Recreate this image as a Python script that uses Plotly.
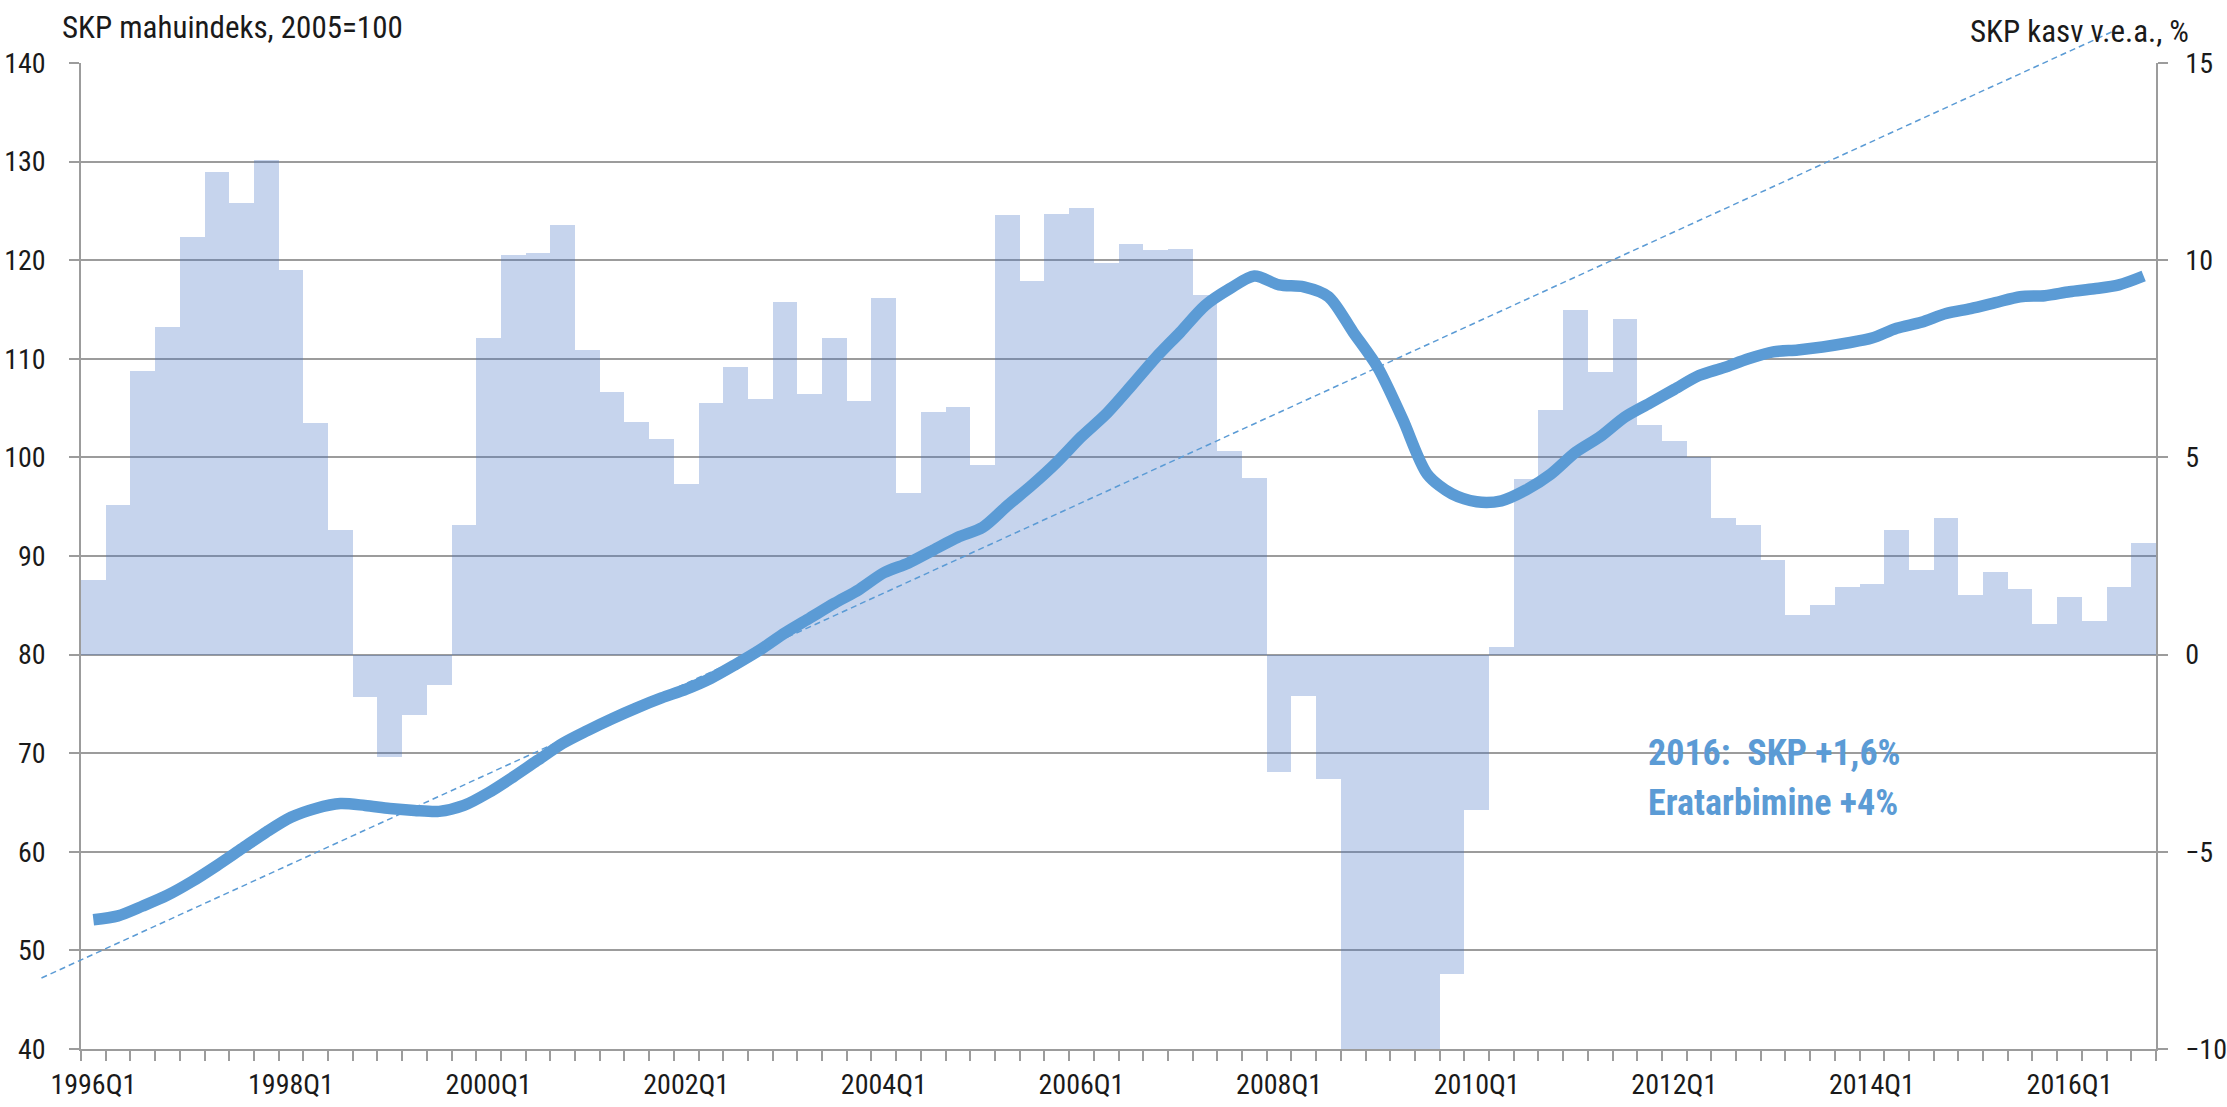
import plotly.graph_objects as go

# ---------------- data ----------------
years = list(range(1996, 2017))
quarters = [f"{y}Q{q}" for y in years for q in range(1, 5)]

tick_labels = ["1996Q1", "1998Q1", "2000Q1", "2002Q1", "2004Q1",
               "2006Q1", "2008Q1", "2010Q1", "2012Q1", "2014Q1", "2016Q1"]

# SKP kasv v.e.a., % (right axis, bars)
gdp_growth = [
    1.89, 3.80, 7.18, 8.31, 10.58, 12.24, 11.45, 12.53,
    9.75, 5.86, 3.17, -1.07, -2.59, -1.52, -0.76, 3.29,
    8.02, 10.14, 10.18, 10.90, 7.72, 6.66, 5.89, 5.46,
    4.33, 6.38, 7.28, 6.47, 8.93, 6.62, 8.02, 6.44,
    9.03, 4.11, 6.16, 6.28, 4.80, 11.14, 9.47, 11.17,
    11.32, 9.93, 10.41, 10.25, 10.28, 9.12, 5.17, 4.47,
    -2.97, -1.04, -3.15, -10.9, -15.6, -16.4, -14.6, -8.11,
    -3.95, 0.19, 4.44, 6.19, 8.73, 7.17, 8.52, 5.82,
    5.41, 5.00, 3.47, 3.28, 2.39, 1.00, 1.26, 1.71,
    1.79, 3.15, 2.14, 3.47, 1.50, 2.10, 1.66, 0.78,
    1.47, 0.86, 1.72, 2.82,
]

# SKP mahuindeks, 2005=100 (left axis, line)
gdp_index = [
    53.1, 53.5, 54.5, 55.6, 57.0, 58.6, 60.3, 62.0,
    63.5, 64.4, 64.9, 64.7, 64.4, 64.2, 64.1, 64.7,
    66.0, 67.6, 69.3, 71.0, 72.3, 73.5, 74.6, 75.6,
    76.5, 77.6, 79.0, 80.5, 82.2, 83.7, 85.2, 86.6,
    88.3, 89.3, 90.6, 91.9, 92.9, 95.1, 97.2, 99.5,
    102.1, 104.4, 107.2, 110.1, 112.7, 115.4, 117.1, 118.4,
    117.5, 117.3, 116.3, 112.7, 109.1, 103.9, 98.3, 96.3,
    95.5, 95.6, 96.7, 98.3, 100.5, 102.1, 104.1, 105.5,
    106.9, 108.3, 109.1, 110.0, 110.7, 110.9, 111.2, 111.6,
    112.1, 113.1, 113.7, 114.6, 115.1, 115.7, 116.3, 116.4,
    116.8, 117.1, 117.5, 118.4,
]

# trend line (drawn freehand in the original): start/end in (quarter index, index value)
trend_start = (-2.1, 47.2)
trend_end = (81.75, 143.2)

note_lines = ["2016:  SKP +1,6%", "Eratarbimine +4%"]
note_y = [70.0, 65.0]
note_x = 62.84

left_title = "SKP mahuindeks, 2005=100"
right_title = "SKP kasv v.e.a., %"

# ---------------- layout constants ----------------
W, H = 2227, 1107
ML, MR, MT, MB = 81, 71, 63, 58
FONT = "Roboto Condensed, Liberation Sans Narrow, Roboto, sans-serif"
TXT = "#1a1a1a"
GRID = "#9c9c9c"
LINE_BLUE = "#5B9BD5"

n = len(quarters)
idx = list(range(n))
x_range = [-0.5, n - 0.5]
y_left = [40, 140]
y_right = [-10, 15]
tickvals_x = [quarters.index(t) for t in tick_labels]


def px(xv):
    return (xv - x_range[0]) / (x_range[1] - x_range[0])


def py(yv):
    return (yv - y_left[0]) / (y_left[1] - y_left[0])


fig = go.Figure()

fig.add_trace(go.Bar(
    x=idx, y=gdp_growth, yaxis="y", width=1.0,
    marker=dict(color="rgba(66,112,194,0.30)", line=dict(width=0)),
    showlegend=False, hoverinfo="skip",
))

fig.add_trace(go.Scatter(
    x=idx, y=gdp_index, yaxis="y2", mode="lines",
    line=dict(color=LINE_BLUE, width=11.5, shape="spline", smoothing=0.8),
    showlegend=False, hoverinfo="skip",
))

fig.add_shape(
    type="line", xref="paper", yref="paper",
    x0=px(trend_start[0]), y0=py(trend_start[1]),
    x1=px(trend_end[0]), y1=py(trend_end[1]),
    line=dict(color=LINE_BLUE, width=1.5, dash="6px,4px"),
    layer="above",
)

for txt, yv in zip(note_lines, note_y):
    fig.add_annotation(
        x=note_x, y=yv, xref="x", yref="y2", text=f"<b>{txt}</b>",
        showarrow=False, xanchor="left", yanchor="middle",
        font=dict(family=FONT, size=36, color=LINE_BLUE),
    )

fig.add_annotation(
    x=(60 - ML) / (W - ML - MR), y=1 + 36 / (H - MT - MB),
    xref="paper", yref="paper", text=left_title, showarrow=False,
    xanchor="left", yanchor="middle",
    font=dict(family=FONT, size=31, color=TXT),
)
fig.add_annotation(
    x=(2191 - ML) / (W - ML - MR), y=1 + 32 / (H - MT - MB),
    xref="paper", yref="paper", text=right_title, showarrow=False,
    xanchor="right", yanchor="middle",
    font=dict(family=FONT, size=31, color=TXT),
)

fig.update_layout(
    width=W, height=H,
    margin=dict(l=ML, r=MR, t=MT, b=MB, pad=0, autoexpand=False),
    paper_bgcolor="white", plot_bgcolor="white",
    bargap=0, barmode="overlay",
    font=dict(family=FONT, size=28, color=TXT),
    xaxis=dict(
        range=x_range, tickmode="array", tickvals=tickvals_x, ticktext=tick_labels,
        ticks="outside", ticklen=10, tickcolor="rgba(0,0,0,0)",
        showgrid=False, zeroline=False, automargin=False,
        showline=True, linecolor=GRID, linewidth=1.5,
        tickfont=dict(family=FONT, size=28, color=TXT),
        ticklabelstandoff=0,
        minor=dict(tickmode="array", tickvals=[i - 0.5 for i in range(n + 1)],
                   ticks="outside", ticklen=10, tickcolor=GRID, tickwidth=1.5,
                   showgrid=False),
    ),
    yaxis=dict(
        range=y_right, side="right", tickmode="linear", tick0=-10, dtick=5,
        ticks="outside", ticklen=10, tickcolor=GRID, tickwidth=1.5,
        showgrid=False, zeroline=False, automargin=False,
        showline=True, linecolor=GRID, linewidth=1.5,
        tickfont=dict(family=FONT, size=28, color=TXT),
        ticklabelstandoff=12,
    ),
    yaxis2=dict(
        range=y_left, side="left", overlaying="y", tickmode="linear", tick0=40, dtick=10,
        ticks="outside", ticklen=10, tickcolor=GRID, tickwidth=1.5,
        showgrid=True, gridcolor=GRID, gridwidth=1.5, zeroline=False, automargin=False,
        showline=True, linecolor=GRID, linewidth=1.5,
        tickfont=dict(family=FONT, size=28, color=TXT),
        ticklabelstandoff=18,
    ),
)

fig.write_html(
    "out.html",
    config={"displayModeBar": False},
    post_script="document.body.style.margin='0';document.body.style.overflow='hidden';",
)
